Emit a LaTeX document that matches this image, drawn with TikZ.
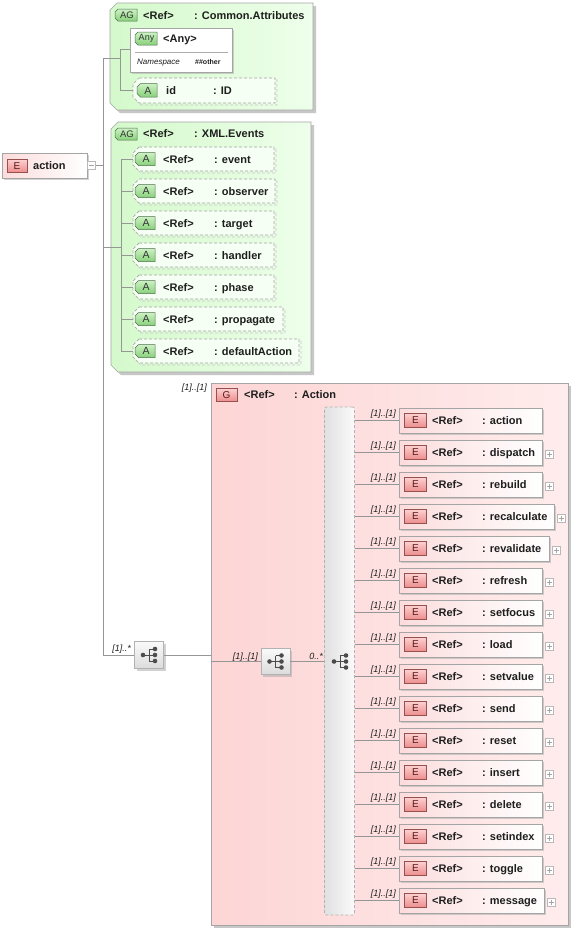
\documentclass[tikz,border=0pt]{standalone}
\usepackage{fontspec}
\setmainfont{Liberation Sans}
\usetikzlibrary{shadows}
\definecolor{linec}{RGB}{150,150,150}
\definecolor{boxb}{RGB}{165,165,165}
\definecolor{grnA}{RGB}{212,249,203}
\definecolor{grnB}{RGB}{238,255,235}
\definecolor{attrfill}{RGB}{246,255,244}
\definecolor{gbTop}{RGB}{205,242,196}
\definecolor{gbBot}{RGB}{135,208,122}
\definecolor{gbBord}{RGB}{80,110,80}
\definecolor{pkA}{RGB}{253,213,213}
\definecolor{pkB}{RGB}{255,236,236}
\definecolor{elA}{RGB}{252,220,220}
\definecolor{ebTop}{RGB}{252,208,208}
\definecolor{ebBot}{RGB}{236,140,140}
\definecolor{ebBord}{RGB}{150,80,80}
\definecolor{ebTxt}{RGB}{90,25,25}
\definecolor{txtc}{RGB}{30,30,30}
\newcommand\chamf[6]{\path[#1] ({#2+#6},{#3}) -- ({#4},{#3}) -- ({#4},{#5}) -- ({#2+#6},{#5}) -- ({#2},{#5-#6}) -- ({#2},{#3+#6}) -- cycle;}
\begin{document}
\begin{tikzpicture}[x=1pt,y=-1pt,
  txt/.style={font=\fontsize{11}{13}\selectfont\bfseries, anchor=base west, inner sep=0pt, text=txtc},
  mult/.style={font=\fontsize{9}{10}\selectfont\itshape, anchor=base east, inner sep=0pt, text=txtc},
  conn/.style={draw=linec, line width=0.7pt},
  shad/.style={drop shadow={shadow xshift=2pt,shadow yshift=-2pt,fill=black!35,opacity=0.5}},
  ebox/.style={draw=boxb, line width=0.6pt, left color=elA, right color=white, shad, rectangle, inner sep=0pt, minimum height=25pt},
  ebadge/.style={draw=ebBord, line width=0.5pt, top color=ebTop, bottom color=ebBot, minimum width=22pt, minimum height=14pt, inner sep=0pt, font=\fontsize{10}{10}\selectfont, text=ebTxt},
  pm/.style={draw=gray!55, fill=white, minimum size=8pt, inner sep=0pt, line width=0.5pt},
  seqbox/.style={draw=gray!60, line width=0.6pt, top color=gray!4, bottom color=gray!28, shad, minimum width=29pt, minimum height=27pt, inner sep=0pt},
  barst/.style={draw=gray!60, dash pattern=on 3pt off 2pt, line width=0.7pt, left color=gray!24, right color=gray!4, rounded corners=2pt, minimum width=30pt, minimum height=508pt, inner sep=0pt},
  seqicon/.pic={
    \draw[black!70, line width=0.9pt] (-6,0) -- (0,0) (0,-6) -- (0,6) (0,-6) -- (6,-6) (0,6) -- (6,6) (0,0) -- (6,0);
    \fill[black!70] (-6,0) circle (2.3pt) (6,-6) circle (2.3pt) (6,0) circle (2.3pt) (6,6) circle (2.3pt);
  }
]
\useasboundingbox (0,0) rectangle (575,932);
\fill[white] (0,0) rectangle (575,932);

% ---------------- Common.Attributes group
\chamf{fill=black!22}{113}{6}{316}{113}{7}
\chamf{draw=boxb, line width=0.6pt, left color=grnA, right color=grnB}{110}{3}{313}{110}{7}
\chamf{draw=gbBord, line width=0.5pt, top color=gbTop, bottom color=gbBot}{115}{9}{137}{21}{3}
\node[font=\fontsize{9.5}{9}\selectfont, text=black!80, inner sep=0pt] (caAG) at (127,15.5) {AG};
\node[txt] (caRef) at (143,19) {<Ref>};
\node[txt] (caName) at (194,19) {: Common.Attributes};

% Any
\node[draw=boxb, line width=0.6pt, fill=white, shad, anchor=north west, minimum width=102pt, minimum height=44pt, inner sep=0pt] (anyb) at (130,28) {};
\chamf{draw=gbBord, line width=0.5pt, top color=gbTop, bottom color=gbBot}{135}{32}{157}{45}{3}
\node[font=\fontsize{9}{9}\selectfont, text=black!80, inner sep=0pt] (anyTag) at (146.5,38.5) {Any};
\node[txt] (anyTxt) at (163,42) {<Any>};
\draw[gray!65, line width=0.6pt] (135,52.5) -- (228,52.5);
\node[font=\fontsize{8}{9}\selectfont\itshape, anchor=base west, inner sep=0pt, text=txtc] (nsK) at (137,64) {Namespace};
\node[font=\fontsize{7}{8}\selectfont\bfseries, anchor=base west, inner sep=0pt, text=txtc] (nsV) at (195,64) {\#\#other};

% id attribute
\chamf{draw=black!22, dash pattern=on 3pt off 2pt, line width=0.8pt}{135}{80}{277}{105}{6}
\chamf{draw=boxb, dash pattern=on 3pt off 2pt, line width=0.7pt, fill=attrfill}{133}{78}{275}{103}{6}
\chamf{draw=gbBord, line width=0.5pt, top color=gbTop, bottom color=gbBot}{137}{83.5}{157}{97}{3.5}
\node[font=\fontsize{10.5}{10}\selectfont, text=black!80, inner sep=0pt] (idA) at (148,90.5) {A};
\node[txt] (idN) at (166,94) {id};
\node[txt] (idT) at (213,94) {: ID};
\coordinate (idTip) at (133,90.5);

% ---------------- XML.Events group
\chamf{fill=black!22}{114}{125}{314}{375}{7}
\chamf{draw=boxb, line width=0.6pt, left color=grnA, right color=grnB}{111}{122}{311}{372}{7}
\chamf{draw=gbBord, line width=0.5pt, top color=gbTop, bottom color=gbBot}{115}{128}{137}{140}{3}
\node[font=\fontsize{9.5}{9}\selectfont, text=black!80, inner sep=0pt] (xeAG) at (127,134) {AG};
\node[txt] (xeRef) at (143,137) {<Ref>};
\node[txt] (xeName) at (194,137) {: XML.Events};

\foreach \nm/\k/\r in {event/0/274, observer/1/275, target/2/274, handler/3/274, phase/4/274, propagate/5/283, defaultAction/6/299}{
  \pgfmathsetmacro\cy{159+32*\k}
  \chamf{draw=black!22, dash pattern=on 3pt off 2pt, line width=0.8pt}{135}{\cy-10}{\r+2}{\cy+14}{6}
  \chamf{draw=boxb, dash pattern=on 3pt off 2pt, line width=0.7pt, fill=attrfill}{133}{\cy-12}{\r}{\cy+12}{6}
  \chamf{draw=gbBord, line width=0.5pt, top color=gbTop, bottom color=gbBot}{135}{\cy-6.5}{155}{\cy+6.5}{3.5}
  \node[font=\fontsize{10.5}{10}\selectfont, text=black!80, inner sep=0pt] (xa-\nm) at (146,\cy) {A};
  \node[txt] (xr-\nm) at (163,\cy+4) {<Ref>};
  \node[txt] (xn-\nm) at (214,\cy+4) {: \nm};
  \coordinate (xt-\nm) at (133,\cy);
  \coordinate (xv-\nm) at (121,\cy);
  \draw[conn] (xv-\nm) -- (xt-\nm);
}
\draw[conn] (xv-event) -- (xv-defaultAction);

% ---------------- root element
\node[ebox, anchor=north west, minimum width=85pt] (root) at (2,153) {};
\node[ebadge, minimum width=20pt, minimum height=13pt] (rootE) at (17,166) {E};
\node[txt] (rootT) at (33,169.5) {action};
\node[pm] (rootpm) at (91.5,165.5) {};
\draw[gray!70, line width=0.5pt] (89,165.5) -- (94,165.5);

% trunk
\coordinate (tTop) at (103,58);
\coordinate (tBot) at (103,655);
\coordinate (caJ) at (120,58);
\coordinate (caV1) at (120,49);
\coordinate (caV2) at (120,90.5);
\coordinate (xeJ) at (103,247);
\draw[conn] (tTop) -- (tBot);
\draw[conn] (rootpm.east) -- (rootpm.east -| tTop);
\draw[conn] (tTop) -- (caJ);
\draw[conn] (caV1) -- (caV2);
\draw[conn] (caV1) -- (anyb.west |- caV1);
\draw[conn] (caV2) -- (idTip);
\draw[conn] (xeJ) -- (xeJ -| xv-event);

% ---------------- Action group
\fill[black!22] (214,386) rectangle (571,928);
\path[draw=boxb, line width=0.6pt, left color=pkA, right color=pkB] (211,383) rectangle (568,925);
\coordinate (grpIn) at (211,655);
\coordinate (grpIn2) at (211,661.5);
\node[mult] (grpM) at (207,390) {[1]..[1]};
\node[ebadge, minimum width=21pt, minimum height=13pt] (grpG) at (226.5,395) {G};
\node[txt] (grpRef) at (244,398.5) {<Ref>};
\node[txt] (grpName) at (294,398.5) {: Action};

% sequences
\node[seqbox] (seq1) at (149,655) {};
\pic at (149,655) {seqicon};
\draw[conn] (tBot) -- (seq1.west);
\node[mult] (m1) at (131,651) {[1]..*};
\draw[conn] (seq1.east) -- (grpIn);

\node[seqbox, minimum height=26pt] (seq2) at (275.5,661.5) {};
\pic at (275.5,661.5) {seqicon};
\draw[conn] (grpIn2) -- (seq2.west);
\node[mult] (m2) at (258,659) {[1]..[1]};

\node[barst] (bar) at (339.5,661) {};
\pic at (340,661.5) {seqicon};
\draw[conn] (seq2.east) -- (seq2.east -| bar.west);
\node[mult] (m3) at (323,659) {0..*};

% elements
\foreach \nm/\k/\r/\p in {action/0/542/0, dispatch/1/542/1, rebuild/2/542/1, recalculate/3/554/1, revalidate/4/549/1, refresh/5/542/1, setfocus/6/542/1, load/7/542/1, setvalue/8/542/1, send/9/542/1, reset/10/542/1, insert/11/542/1, delete/12/542/1, setindex/13/542/1, toggle/14/542/1, message/15/544/1}{
  \pgfmathsetmacro\cy{420.5+32*\k}
  \pgfmathsetmacro\w{\r-399}
  \node[ebox, anchor=west, minimum width=\w pt] (el-\nm) at (399,\cy) {};
  \node[ebadge] (eb-\nm) at (415.5,\cy) {E};
  \node[txt] (er-\nm) at (432,\cy+4) {<Ref>};
  \node[txt] (en-\nm) at (482,\cy+4) {: \nm};
  \node[mult] (em-\nm) at (396,\cy-4) {[1]..[1]};
  \draw[conn] (bar.east |- el-\nm.west) -- (el-\nm.west);
  \ifnum\p=1
    \node[pm] (ep-\nm) at (\r+7,\cy+1.5) {};
    \draw[gray!70, line width=0.5pt] (\r+4.5,\cy+1.5) -- (\r+9.5,\cy+1.5) (\r+7,\cy-1) -- (\r+7,\cy+4);
  \fi
}
\end{tikzpicture}
\end{document}
